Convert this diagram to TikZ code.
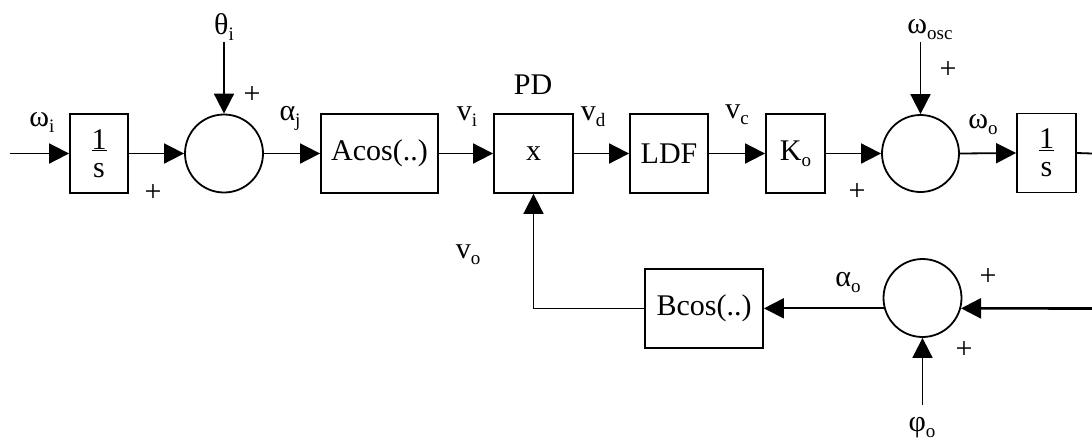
\documentclass[tikz,border=0pt]{standalone}
\usepackage{fontspec}
\setmainfont{Liberation Serif}
\usetikzlibrary{arrows.meta}
\newcommand\lo[1]{\raisebox{-0.2em}{\fontsize{19}{19}\selectfont #1}}
\begin{document}
\begin{tikzpicture}[x=1pt,y=-1pt,
  font=\fontsize{30}{28}\selectfont,
  blk/.style={draw,line width=1.8pt,minimum height=79pt,inner sep=0pt},
  sumc/.style={draw,circle,line width=1.8pt,minimum size=78pt,inner sep=0pt},
  lbl/.style={inner sep=0pt},
  pls/.style={inner sep=0pt,font=\fontsize{30}{30}\selectfont},
  conn/.style={line width=1.8pt,-{Triangle[length=20pt,width=20pt]}},
  wire/.style={line width=1.8pt}]
\useasboundingbox (0,0) rectangle (1092,440);
% blocks
\node[blk,minimum width=58pt,align=center] (int1) at (99,153.5) {\underline{1}\\s};
\node[sumc] (s1) at (224,153.5) {};
\node[blk,minimum width=117pt] (acos) at (379.5,153.5) {Acos(..)};
\node[blk,minimum width=79pt] (pd) at (533.5,153.5) {x};
\node[blk,minimum width=78pt] (ldf) at (669,153.5) {LDF};
\node[blk,minimum width=59pt] (ko) at (795.5,153.5) {K\lo{o}};
\node[sumc,minimum size=77pt] (s2) at (920.5,153.5) {};
\node[blk,minimum width=59pt,align=center] (int2) at (1046.5,153) {\underline{1}\\s};
\node[blk,minimum width=118pt] (bcos) at (704,308.5) {Bcos(..)};
\node[sumc] (s3) at (922.5,298) {};
% free ends
\coordinate (in) at (10,153.5);
\coordinate (thtop) at (224,42);
\coordinate (osctop) at (920.5,42);
\coordinate (outR) at (1092,153.5);
\coordinate (fbR) at (1092,308.5);
\coordinate (phbot) at (922.5,405);
% connectors
\draw[conn] (in) -- (int1.west);
\draw[conn] (int1.east) -- (s1.west);
\draw[conn] (thtop) -- (s1.north);
\draw[conn] (s1.east) -- (acos.west);
\draw[conn] (acos.east) -- (pd.west);
\draw[conn] (pd.east) -- (ldf.west);
\draw[conn] (ldf.east) -- (ko.west);
\draw[conn] (ko.east) -- (s2.west);
\draw[conn] (osctop) -- (s2.north);
\draw[conn] (s2.east) -- (int2.west);
\draw[wire] (int2.east) -- (outR);
\draw[conn,line width=2.6pt] (fbR) -- (s3.-15);
\draw[conn] (phbot) -- (s3.south);
\draw[conn] (s3.195) -- (s3.195 -| bcos.east);
\draw[conn] (bcos.west) -| (pd.south);
% labels
\node[lbl] (lwi) at (42,122) {ω\lo{i}};
\node[lbl] (lth) at (224,27) {θ\lo{i}};
\node[lbl] (laj) at (290,118) {α\lo{j}};
\node[lbl] (lvi) at (467,117) {v\lo{i}};
\node[lbl] (lpd) at (533,85) {PD};
\node[lbl] (lvd) at (593,117) {v\lo{d}};
\node[lbl] (lvc) at (737,115) {v\lo{c}};
\node[lbl] (lwo) at (983,125) {ω\lo{o}};
\node[lbl] (losc) at (930,30) {ω\lo{osc}};
\node[lbl] (lvo) at (468,255) {v\lo{o}};
\node[lbl] (lao) at (848,283) {α\lo{o}};
\node[lbl] (lph) at (922,428) {φ\lo{o}};
\node[pls] (p1) at (153,193) {+};
\node[pls] (p2) at (252,95) {+};
\node[pls] (p3) at (948,70) {+};
\node[pls] (p4) at (857,192) {+};
\node[pls] (p5) at (988,277) {+};
\node[pls] (p6) at (964,350) {+};
\end{tikzpicture}
\end{document}
